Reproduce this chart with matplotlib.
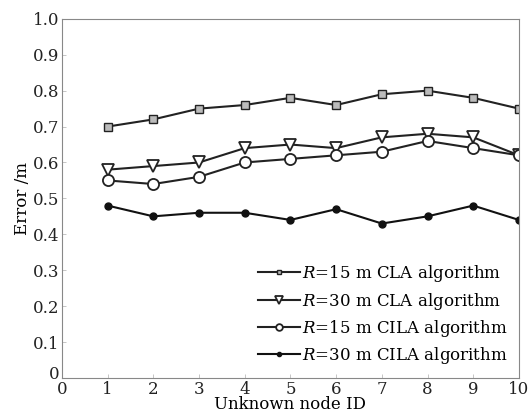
import matplotlib
matplotlib.use("Agg")
import matplotlib.pyplot as plt
import matplotlib.transforms as mtransforms

plt.rcParams['font.family'] = ['DejaVu Serif']
plt.rcParams['mathtext.fontset'] = 'dejavuserif'

node_ids = [1, 2, 3, 4, 5, 6, 7, 8, 9, 10]
cla_r15 = [0.70, 0.72, 0.75, 0.76, 0.78, 0.76, 0.79, 0.80, 0.78, 0.75]
cla_r30 = [0.58, 0.59, 0.60, 0.64, 0.65, 0.64, 0.67, 0.68, 0.67, 0.62]
cila_r15 = [0.55, 0.54, 0.56, 0.60, 0.61, 0.62, 0.63, 0.66, 0.64, 0.62]
cila_r30 = [0.48, 0.45, 0.46, 0.46, 0.44, 0.47, 0.43, 0.45, 0.48, 0.44]
labels = [r'$\mathit{R}$=15 m CLA algorithm', r'$\mathit{R}$=30 m CLA algorithm',
          r'$\mathit{R}$=15 m CILA algorithm', r'$\mathit{R}$=30 m CILA algorithm']
x_ticks = list(range(0, 11))
y_ticks = [0, 0.1, 0.2, 0.3, 0.4, 0.5, 0.6, 0.7, 0.8, 0.9, 1.0]
y_ticklabels = ['0', '0.1', '0.2', '0.3', '0.4', '0.5', '0.6', '0.7', '0.8', '0.9', '1.0']

fig = plt.figure(figsize=(5.29, 4.19), dpi=100)
ax = fig.add_axes([0.117, 0.098, 0.864, 0.857])

ax.plot(node_ids, cla_r15, color='#222222', lw=1.5, marker='s', ms=6, mfc='#bbbbbb', mec='#222222', mew=1.0, label=labels[0])
ax.plot(node_ids, cla_r30, color='#222222', lw=1.5, marker='v', ms=9, mfc='white', mec='#222222', mew=1.3, label=labels[1])
ax.plot(node_ids, cila_r15, color='#222222', lw=1.5, marker='o', ms=8, mfc='white', mec='#222222', mew=1.3, label=labels[2])
ax.plot(node_ids, cila_r30, color='#111111', lw=1.5, marker='o', ms=5, mfc='#111111', mec='#111111', label=labels[3])

ax.set_xlim(0, 10)
ax.set_ylim(0, 1.0)
ax.set_xticks(x_ticks)
ax.set_yticks(y_ticks)
ax.set_yticklabels(y_ticklabels)
ax.tick_params(direction='in', length=3, labelsize=12, width=0.6, colors='#bbbbbb', labelcolor='#222222')
ax.tick_params(axis='x', pad=2)
ax.tick_params(axis='y', pad=2)
for s in ax.spines.values():
    s.set_color('#888888')
    s.set_linewidth(0.8)

# the y-axis "0" sits a little higher, as in the reference
ylab0 = ax.get_yticklabels()[0]
ylab0.set_transform(ylab0.get_transform() + mtransforms.ScaledTranslation(0, 5/100, fig.dpi_scale_trans))

ax.set_xlabel('Unknown node ID', fontsize=12, labelpad=-1)
ax.set_ylabel('Error /m', fontsize=12, labelpad=1)

ax.legend(loc='lower right', frameon=False, fontsize=12, markerscale=0.6,
          handlelength=2.5, handletextpad=0.1, labelspacing=0.38, borderaxespad=0.3)

fig.savefig('out.png', dpi=100)
